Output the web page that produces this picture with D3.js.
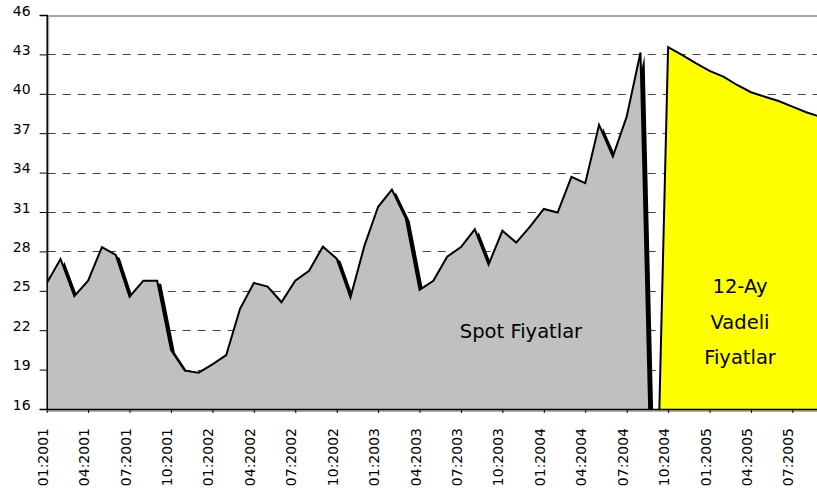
<!DOCTYPE html>
<html>
<head>
<meta charset="utf-8">
<script src="https://cdn.jsdelivr.net/npm/d3@7"></script>
<style>
  body { margin: 0; background: #fff; }
  text { font-family: "DejaVu Sans", Verdana, sans-serif; fill: #000; }
</style>
</head>
<body>
<svg id="vis"></svg>
<script>
const plotWidth = 817;
const plotHeight = 500;

// monthly categories 01:2001 .. 09:2005
const fmt = d3.timeFormat('%m:%Y');
const months = d3.timeMonth.range(new Date(2001, 0, 1), new Date(2005, 9, 1)).map(fmt);

const tickLabels = ['01:2001', '04:2001', '07:2001', '10:2001', '01:2002', '04:2002', '07:2002',
    '10:2002', '01:2003', '04:2003', '07:2003', '10:2003', '01:2004', '04:2004', '07:2004',
    '10:2004', '01:2005', '04:2005', '07:2005'];
const yTicks = [16, 19, 22, 25, 28, 31, 34, 37, 40, 43, 46];

// spot prices 01:2001 .. 08:2004, then the drop to zero at 09:2004
const spotPrices = [25.57, 27.42, 24.6, 25.77, 28.33, 27.73, 24.55, 25.77, 25.77, 20.5,
    18.92, 18.77, 19.4, 20.11, 23.63, 25.6, 25.32, 24.12, 25.77, 26.53,
    28.36, 27.45, 24.5, 28.4, 31.4, 32.7, 30.52, 25.08, 25.76, 27.6,
    28.33, 29.68, 27.0, 29.57, 28.67, 29.88, 31.23, 30.96, 33.68, 33.2,
    37.63, 35.22, 38.26, 43.14, 0];
// 12-month forward prices, zero at 09:2004 then 10:2004 .. 09:2005
const futurePrices = [0, 43.55, 42.96, 42.33, 41.74, 41.31, 40.67, 40.12, 39.78, 39.45,
    39.02, 38.6, 38.25];

const spotData = spotPrices.map((v, i) => ({month: months[i], value: v}));
const futureData = futurePrices.map((v, i) => ({month: months[44 + i], value: v}));

const svg = d3.select('#vis')
            .attr('width', plotWidth)
            .attr('height', plotHeight);

const mLeft = 46.7, mRight = 820, mTop = 15, mBottom = 409;

const x = d3.scalePoint().domain(months).range([mLeft, mRight]);
const y = d3.scaleLinear().domain([16, 46]).range([mBottom, mTop]);

svg.append('defs').append('clipPath').attr('id', 'plotclip')
    .append('rect')
    .attr('x', mLeft).attr('y', mTop)
    .attr('width', mRight - mLeft).attr('height', mBottom - mTop);

// plot border (grey)
svg.append('line')
    .attr('x1', mLeft).attr('x2', plotWidth).attr('y1', mTop + 1).attr('y2', mTop + 1)
    .attr('stroke', '#a6a6a6').attr('stroke-width', 2);
svg.append('line')
    .attr('x1', mLeft + 1.5).attr('x2', mLeft + 1.5).attr('y1', mTop).attr('y2', mBottom)
    .attr('stroke', '#a6a6a6').attr('stroke-width', 2);
svg.append('line')
    .attr('x1', mLeft).attr('x2', plotWidth).attr('y1', mBottom + 2).attr('y2', mBottom + 2)
    .attr('stroke', '#b0b0b0').attr('stroke-width', 2);

// dashed gridlines
svg.append('g').selectAll('line')
    .data(yTicks.filter(d => d > 16 && d < 46))
    .enter().append('line')
    .attr('x1', mLeft + 1).attr('x2', plotWidth)
    .attr('y1', d => Math.round(y(d)) + 0.5).attr('y2', d => Math.round(y(d)) + 0.5)
    .attr('stroke', '#444').attr('stroke-width', 1)
    .attr('stroke-dasharray', '8,7');

const area = d3.area()
    .x(d => x(d.month))
    .y0(y(0))
    .y1(d => y(d.value));
const line = d3.line()
    .x(d => x(d.month))
    .y(d => y(d.value));

const plot = svg.append('g').attr('clip-path', 'url(#plotclip)');

// shadows
const shadow = plot.append('g').attr('transform', 'translate(4,3)');
shadow.append('path').datum(spotData).attr('d', area).attr('fill', '#000');
shadow.append('path').datum(futureData).attr('d', area).attr('fill', '#000');

plot.append('path').datum(spotData).attr('d', area).attr('fill', '#c0c0c0');
plot.append('path').datum(futureData).attr('d', area).attr('fill', '#ffff00');
plot.append('path').datum(spotData).attr('d', line)
    .attr('fill', 'none').attr('stroke', '#000').attr('stroke-width', 2);
plot.append('path').datum(futureData).attr('d', line)
    .attr('fill', 'none').attr('stroke', '#000').attr('stroke-width', 2);

// y axis
const yAxis = svg.append('g')
    .attr('transform', `translate(${mLeft},0)`)
    .call(d3.axisLeft(y).tickValues(yTicks).tickSize(7).tickPadding(9));
yAxis.select('.domain').attr('stroke', '#000').attr('stroke-width', 1.5);
yAxis.selectAll('.tick text')
    .attr('dy', '0').attr('y', 0)
    .style('font-size', '14px');

// x axis
const xAxis = svg.append('g')
    .attr('transform', `translate(0,${mBottom})`)
    .call(d3.axisBottom(x).tickValues(tickLabels).tickSize(4).tickSizeOuter(0));
xAxis.select('.domain').attr('stroke', '#000').attr('stroke-width', 1.5);
xAxis.selectAll('.tick text')
    .attr('x', 0).attr('y', 0).attr('dy', '0')
    .attr('transform', 'translate(0.5,19) rotate(-90)')
    .attr('text-anchor', 'end')
    .style('font-size', '14px');

svg.selectAll('.tick text').attr('fill', '#000');

// annotations
svg.append('text')
    .attr('x', 521).attr('y', 338)
    .attr('text-anchor', 'middle')
    .style('font-size', '19.5px')
    .text('Spot Fiyatlar');

const futLabel = svg.append('text')
    .attr('text-anchor', 'middle')
    .style('font-size', '19.5px');
['12-Ay', 'Vadeli', 'Fiyatlar'].forEach((t, i) => {
    futLabel.append('tspan')
        .attr('x', 740).attr('y', 293 + i * 35.7)
        .text(t);
});
</script>
</body>
</html>
